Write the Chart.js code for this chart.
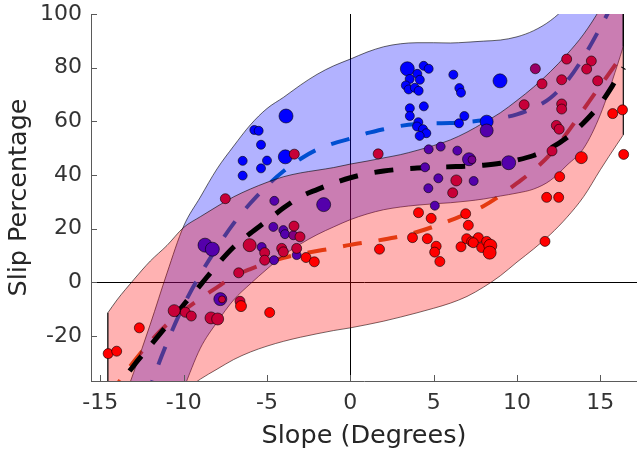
<!DOCTYPE html>
<html>
<head>
<meta charset="utf-8">
<script src="https://cdn.jsdelivr.net/npm/chart.js@4"></script>
<style>
  html, body { margin: 0; padding: 0; background: #fff; }
  #wrap { width: 637px; height: 452px; }
</style>
</head>
<body>
<div id="wrap"><canvas id="slipChart"></canvas></div>
<script>
// prediction bands (upper / lower limits) sampled along the slope axis
const bandX = [-14.55, -14, -13, -12, -11, -10, -9, -8, -7, -6, -5, -4, -3, -2, -1, 0,
  1, 2, 3, 4, 5, 6, 7, 8, 9, 10, 11, 12, 13, 14, 15, 16, 16.38];
const blueUpper = [-62, -51, -33.5, -15.5, 3.5, 21, 31.8, 42.3, 50.8, 58.7, 64.8, 69, 73.5, 77.5, 80.7, 83.2,
  85.8, 87.8, 88.9, 89.3, 89.3, 89.2, 89.5, 89.9, 90.3, 91.5, 93.8, 97.5, 103, 110, 118, 127, 131];
const blueLower = [-125, -113, -92, -73, -55, -39.5, -24.5, -14.8, -6.5, -0.5, 5, 10.2, 14.3, 17.8, 20.7, 23.4,
  25.5, 27.1, 28.1, 28.8, 29.3, 29.7, 30.3, 31.1, 32.2, 33.3, 34.8, 38, 43.7, 50, 62.5, 80.5, 88];
const redUpper = [-11.3, -6.5, 1, 8, 13.8, 20.5, 24.5, 28.3, 31.9, 34.8, 37.3, 39.4, 40.8, 41.8, 42.8, 44.1,
  45.2, 46.4, 47.6, 49.2, 51, 53.1, 56, 59.5, 63.2, 67.8, 72.8, 78.5, 85, 92.5, 102, 113, 118];
const redLower = [-82, -74, -63, -53.5, -46, -40.5, -36, -32.3, -28.7, -25.9, -23.7, -21.9, -20.4, -19.1, -17.9, -16.9,
  -15.7, -14.4, -12.9, -11.3, -9.6, -7.7, -5.2, -1.7, 2.5, 7.6, 12.5, 17.9, 24.3, 32, 42, 51.5, 55];

// fitted curves
const fitX = [-14.5, -14, -13, -12, -11, -10, -9, -8, -7, -6, -5, -4, -3, -2, -1, 0,
  1, 2, 3, 4, 5, 6, 7, 8, 9, 10, 11, 12, 13, 14, 15, 16, 16.4];
const blueFit = [-95, -82, -60, -39, -22.5, -8.5, 3, 13, 22, 29.5, 36, 41.5, 46, 49.5, 51.8, 53.6,
  55.6, 57.1, 58.3, 59, 59.3, 59.4, 59.8, 60.4, 61.2, 62.6, 65, 68.7, 75, 84, 95, 107, 112];
const redFit = [-42, -38, -29.5, -22, -15.6, -10.5, -6, -1.8, 2.2, 5, 7.3, 9.2, 10.6, 11.7, 12.8, 14,
  15, 16, 17.2, 18.8, 20.8, 23.1, 25.6, 28.5, 32.4, 37, 41.8, 47.8, 55.7, 64.5, 73.3, 82, 86];
const allFit = [-44, -39.5, -31, -23.5, -16, -8.3, -1, 6.5, 13.2, 18.3, 23, 27.8, 31.9, 34.6, 37, 39,
  40.5, 41.5, 42.2, 42.6, 42.9, 43.1, 43.3, 43.7, 44.4, 45.6, 47.3, 50, 54, 59.5, 66.5, 76, 80];

// measured runs: slope, slip, share of red class, marker radius
const slopeDeg = [
  -5.76, -5.5, -5.36, -6.46, -5.0, -5.36, -6.46, -3.86, -3.9, 3.42, 4.4, 4.7, 4.02, 3.56, 4.17, 3.33, 3.5,
  3.87, 4.1, 6.18, 6.54, 6.64, 8.98, 3.57, 4.41, 3.57, 6.84, 6.52, 4.08, 4.0, 4.36, 4.56, 4.16, 8.18,
  8.18, 7.12, 7.3, 9.5, 4.7, 5.42, 6.42, 4.48, 5.28, 7.4, 4.68, 5.07, -1.6, -4.56, -8.72, -8.28, -5.32,
  -4.62, -4.02, -3.92, -3.22, -4.58, -7.8, -3.42,
  -3.36, -7.5, 1.67, 11.1, 12.98, 14.46, 14.18, 11.5, 12.68, 14.84, 10.43, 12.68, 12.68, 12.36, 12.53,
  12.1, 6.36, 6.14, -3.38, -3.02, -3.22, -4.12, -4.02, -5.14, -5.14, -6.04, -6.7, -7.7, -6.62, -10.57,
  -9.9, -9.54, -8.36, -7.96,
  -6.56, -4.84, -12.66, -14.53, -14.02, -2.66, -2.16, 1.75, 3.73, 4.62, 5.15, 5.06, 5.37, 6.64, 6.98,
  7.08, 6.92, 7.28, 7.68, 7.38, 7.88, 8.18, 8.4, 8.36, 4.09, 4.85, 11.68, 11.78, 12.5, 12.56, 13.86,
  15.74, 16.33, 16.4
];
const slipPct = [
  56.8, 56.5, 51.3, 45.3, 45.4, 42.5, 39.8, 62, 46.8, 79.6, 80.7, 79.6, 77.7, 75.8, 75.5, 73.4, 71.9,
  72.5, 71.4, 77.4, 72.4, 70.7, 75.1, 64.9, 65.6, 62, 62, 59.3, 59.7, 58.1, 57.1, 55.6, 54.6, 59.9,
  56.6, 45.9, 45.7, 44.6, 49.6, 50.6, 49.1, 42.9, 38.8, 37.8, 35.1, 28.6, 29, 30.4, 13.9, 12.4, 13.2,
  20.7, 19.5, 18, 10.2, 8.3, -6.2, 17.6,
  47.8, 31.2, 47.9, 79.6, 83.2, 82.5, 79.5, 74, 75.5, 75.1, 66.2, 66.5, 64.6, 58.5, 57.1,
  49, 38, 33.4, 21, 17, 12.7, 12.7, 11.4, 11.1, 8.3, 13.9, 3.6, -6.3, -7, -10.5,
  -11.1, -12.5, -13.2, -13.6,
  -8.8, -11.2, -16.9, -26.5, -25.6, 9.3, 7.7, 12.4, 16.7, 16.3, 13.5, 11.3, 7.8, 13.3, 16.3,
  21.3, 25.6, 15.2, 16.7, 14.8, 13, 15.3, 13.7, 11.1, 26, 23.9, 15.3, 31.7, 31.7, 39.4, 46.5,
  62.9, 64.3, 47.7
];
const redShare = [
  0, 0, 0, 0, 0, 0, 0, 0, 0, 0, 0, 0, 0, 0, 0, 0, 0,
  0, 0, 0, 0, 0, 0, 0, 0, 0, 0, 0, 0, 0, 0, 0, 0, 0,
  0.33, 0.33, 0.45, 0.33, 0.33, 0.33, 0.33, 0.33, 0.33, 0.33, 0.33, 0.33, 0.33, 0.33, 0.33, 0.33, 0.33,
  0.33, 0.33, 0.33, 0.33, 0.33, 0.33, 0.5,
  0.78, 0.78, 0.78, 0.6, 0.78, 0.78, 0.78, 0.78, 0.78, 0.78, 0.78, 0.78, 0.78, 0.78, 0.78,
  0.78, 0.78, 0.78, 0.78, 0.78, 0.78, 0.78, 0.78, 0.78, 0.78, 0.78, 0.78, 0.78, 0.78, 0.78,
  0.78, 0.78, 0.78, 0.78,
  1, 1, 1, 1, 1, 1, 1, 1, 1, 1, 1, 1, 1, 1, 1,
  1, 1, 1, 1, 1, 1, 1, 1, 1, 1, 1, 1, 1, 1, 1, 1,
  1, 1, 1
];
const markerSize = [
  4.5, 4.5, 4.5, 4.5, 4.5, 4.5, 4.5, 7, 7, 7, 4.5, 4.5, 4.5, 4.5, 4.5, 4.5, 4.5,
  4.5, 4.5, 4.5, 4.5, 4.5, 7, 4.5, 4.5, 4.5, 4.5, 4.5, 4.5, 4.5, 4.5, 4.5, 4.5, 6.5,
  6.5, 6.5, 4, 7, 4.5, 4.5, 4.5, 4.5, 4.5, 4.5, 4.5, 4.5, 7, 4.5, 7, 7, 4.5,
  4.5, 4.5, 4.5, 4.5, 4.5, 6.5, 4.5,
  5, 5, 5, 5, 5, 5, 5, 5, 5, 5, 5, 5, 5, 5, 5,
  5, 5.5, 5, 5, 5, 5, 5, 5, 5, 5, 6.5, 5, 3.5, 5, 6,
  5, 5, 6, 6,
  5.5, 5, 5, 5, 5, 5, 5, 5, 5, 5, 5, 5, 5, 5, 5,
  5, 5, 5, 5, 5, 5, 5, 6.5, 6.5, 5, 5, 5, 5, 5, 5, 6,
  5, 5, 5
];

const xTicks = [-15, -10, -5, 0, 5, 10, 15];
const yTicks = [-20, 0, 20, 40, 60, 80, 100];

const pairs = (xs, ys) => xs.map((x, i) => ({ x: x, y: ys[i] }));
const mixColor = t => `rgb(${Math.round(255 * t)},0,${Math.round(255 * (1 - t))})`;
const edgeAt = (i, upper, lower) => [{ x: bandX[i], y: upper[i] }, { x: bandX[i], y: lower[i] }];
const last = bandX.length - 1;

const EDGE = 'rgba(0,0,0,0.6)';
const AXIS = '#5a5a5a';

// inward tick marks, like the original plotting tool
const innerTicks = {
  id: 'innerTicks',
  afterDraw(chart) {
    const { ctx, chartArea, scales } = chart;
    ctx.save();
    ctx.strokeStyle = AXIS;
    ctx.lineWidth = 1;
    ctx.beginPath();
    xTicks.forEach(v => {
      const px = Math.round(scales.x.getPixelForValue(v)) + 0.5;
      ctx.moveTo(px, chartArea.bottom);
      ctx.lineTo(px, chartArea.bottom - 6);
    });
    yTicks.forEach(v => {
      const py = Math.round(scales.y.getPixelForValue(v)) + 0.5;
      ctx.moveTo(chartArea.left, py);
      ctx.lineTo(chartArea.left + 6, py);
    });
    ctx.stroke();
    ctx.restore();
  }
};

const fitLine = (data, color, width, order) => ({
  data: data, borderColor: color, borderWidth: width, borderDash: [19, 17],
  borderCapStyle: 'butt', pointRadius: 0, fill: false, clip: 0,
  cubicInterpolationMode: 'monotone', order: order
});
const bandLine = (data, fill, bg, order) => ({
  data: data, borderColor: EDGE, borderWidth: 1, backgroundColor: bg,
  pointRadius: 0, fill: fill, clip: 0, cubicInterpolationMode: 'monotone', order: order
});
const edgeLine = (data, order) => ({
  data: data, borderColor: EDGE, borderWidth: 1, pointRadius: 0, fill: false, clip: 0, order: order
});

new Chart(document.getElementById('slipChart'), {
  type: 'line',
  data: {
    datasets: [
      {
        data: pairs(slopeDeg, slipPct),
        showLine: false,
        pointRadius: markerSize,
        pointBackgroundColor: redShare.map(mixColor),
        pointBorderColor: 'rgba(0,0,0,0.75)',
        pointBorderWidth: 0.8,
        order: 0
      },
      fitLine(pairs(fitX, allFit), '#000', 5, 1),
      edgeLine(edgeAt(0, redUpper, redLower), 2),
      edgeLine(edgeAt(last, redUpper, redLower), 2),
      edgeLine(edgeAt(last, blueUpper, blueLower), 2),
      bandLine(pairs(bandX, redUpper), '+1', 'rgba(255,0,0,0.3)', 4),
      bandLine(pairs(bandX, redLower), false, 'transparent', 4),
      bandLine(pairs(bandX, blueUpper), '+1', 'rgba(0,0,255,0.3)', 6),
      bandLine(pairs(bandX, blueLower), false, 'transparent', 6),
      fitLine(pairs(fitX, redFit), 'rgb(217,83,25)', 4, 7),
      fitLine(pairs(fitX, blueFit), 'rgb(0,114,189)', 4, 8)
    ]
  },
  options: {
    responsive: true,
    maintainAspectRatio: false,
    animation: false,
    devicePixelRatio: 1,
    layout: { autoPadding: false, padding: { top: 14, right: 0, bottom: 0, left: 0 } },
    plugins: { legend: { display: false }, tooltip: { enabled: false } },
    scales: {
      x: {
        type: 'linear',
        min: -15.56,
        max: 17.2,
        afterFit: s => { s.height = 71; s.paddingLeft = 0; s.paddingRight = 0; },
        afterBuildTicks: s => { s.ticks = xTicks.map(v => ({ value: v })); },
        ticks: { padding: 9, color: '#333', font: { family: 'DejaVu Sans', size: 22 } },
        grid: {
          drawTicks: false,
          color: c => (c.tick && c.tick.value === 0 ? '#000' : 'rgba(0,0,0,0)')
        },
        border: { display: true, color: AXIS, width: 1 },
        title: {
          display: true, text: 'Slope (Degrees)', color: '#262626',
          font: { family: 'DejaVu Sans', size: 25.5 }, padding: { top: 0, bottom: 0 }
        }
      },
      y: {
        type: 'linear',
        min: -36.7,
        max: 100,
        afterFit: s => { s.width = 91; s.paddingTop = 0; s.paddingBottom = 0; },
        afterBuildTicks: s => { s.ticks = yTicks.map(v => ({ value: v })); },
        ticks: { padding: 9, color: '#333', font: { family: 'DejaVu Sans', size: 22 } },
        grid: {
          drawTicks: false,
          color: c => (c.tick && c.tick.value === 0 ? '#000' : 'rgba(0,0,0,0)')
        },
        border: { display: true, color: AXIS, width: 1 },
        title: {
          display: true, text: 'Slip Percentage', color: '#262626',
          font: { family: 'DejaVu Sans', size: 25.5 }, padding: { top: 4, bottom: 0 }
        }
      }
    }
  },
  plugins: [innerTicks]
});
</script>
</body>
</html>
